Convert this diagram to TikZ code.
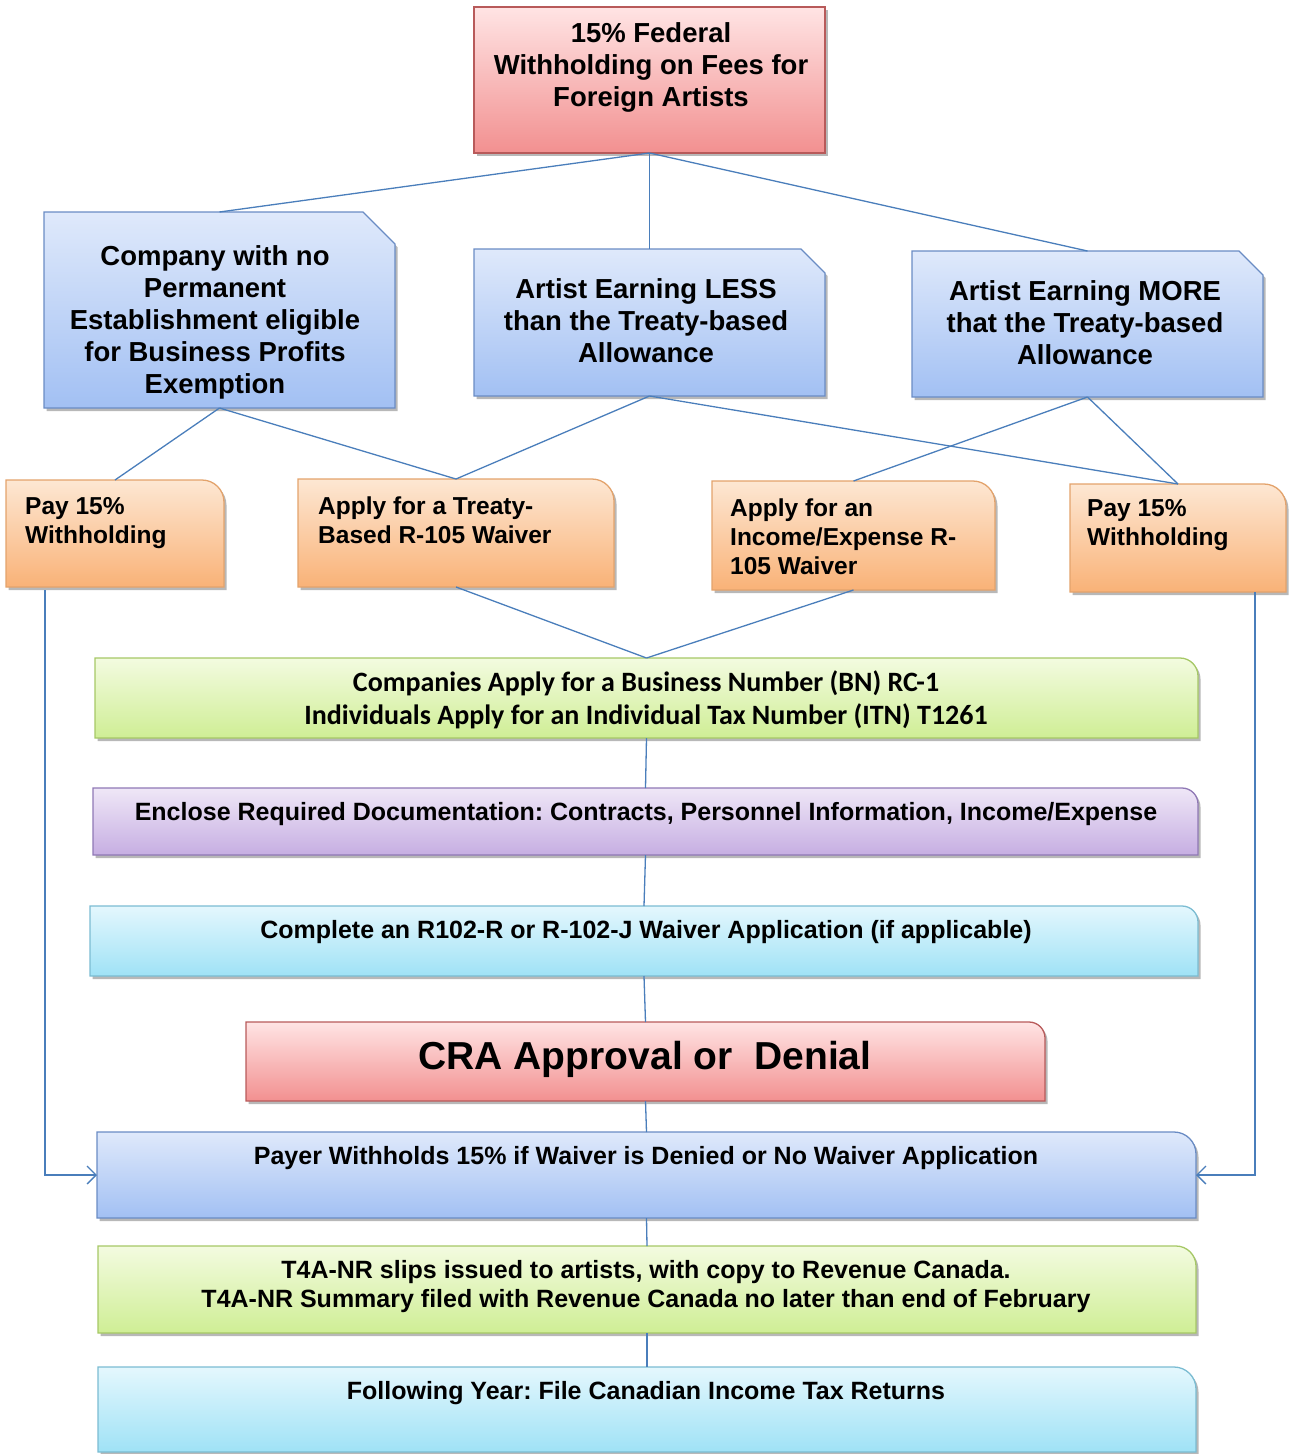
\documentclass[tikz,border=0pt]{standalone}
\usepackage{fontspec}
\setmainfont{Liberation Sans}
\newfontfamily\calfont{Carlito}
\usetikzlibrary{shadows,arrows.meta}
\frenchspacing
\definecolor{redT}{HTML}{FFE4E4}
\definecolor{redB}{HTML}{F29090}
\definecolor{redD}{HTML}{B85A5A}
\definecolor{bluT}{HTML}{DFE9FB}
\definecolor{bluB}{HTML}{A2C0F3}
\definecolor{bluD}{HTML}{6A8CC4}
\definecolor{oraT}{HTML}{FDE7D3}
\definecolor{oraB}{HTML}{F9B277}
\definecolor{oraD}{HTML}{E3A36C}
\definecolor{greT}{HTML}{F3FBE0}
\definecolor{greB}{HTML}{CFEE95}
\definecolor{greD}{HTML}{A6C866}
\definecolor{purT}{HTML}{EFE7F7}
\definecolor{purB}{HTML}{C6AEE2}
\definecolor{purD}{HTML}{8F78B5}
\definecolor{cyaT}{HTML}{E4F7FD}
\definecolor{cyaB}{HTML}{9FE2F6}
\definecolor{cyaD}{HTML}{7BBCD2}
\definecolor{lineC}{HTML}{4A7EBB}
\newcommand\myfs[2]{\fontsize{#1}{#2}\selectfont\bfseries\frenchspacing}
% plain rectangle: style name x1 y1 x2 y2
\newcommand\plainbox[6]{%
  \path[#1] (#3,#4) rectangle (#5,#6);
  \node[inner sep=0pt,outer sep=0pt,minimum width={(#5-#3)*1pt},minimum height={(#6-#4)*1pt}] (#2) at ({(#3+#5)/2},{(#4+#6)/2}) {};}
% snipped top-right corner
\newcommand\snipbox[7]{%
  \path[#1] (#3,#4) -- ({#5-#7},#4) -- (#5,{#4+#7}) -- (#5,#6) -- (#3,#6) -- cycle;
  \node[inner sep=0pt,outer sep=0pt,minimum width={(#5-#3)*1pt},minimum height={(#6-#4)*1pt}] (#2) at ({(#3+#5)/2},{(#4+#6)/2}) {};}
% rounded top-right corner
\newcommand\rbox[7]{%
  \path[#1] (#3,#6) -- (#3,#4) -- ({#5-#7},#4) .. controls ({#5-0.448*#7},#4) and (#5,{#4+0.448*#7}) .. (#5,{#4+#7}) -- (#5,#6) -- cycle;
  \node[inner sep=0pt,outer sep=0pt,minimum width={(#5-#3)*1pt},minimum height={(#6-#4)*1pt}] (#2) at ({(#3+#5)/2},{(#4+#6)/2}) {};}
\tikzset{
  shad/.style={drop shadow={shadow xshift=2.5pt,shadow yshift=-3pt,opacity=0.28,fill=black}},
  redbox/.style={shad,top color=redT,bottom color=redB,draw=redD,line width=1.3pt},
  bluebox/.style={shad,top color=bluT,bottom color=bluB,draw=bluD,line width=1.3pt},
  orangebox/.style={shad,top color=oraT,bottom color=oraB,draw=oraD,line width=1.3pt},
  greenbox/.style={shad,top color=greT,bottom color=greB,draw=greD,line width=1.3pt},
  purplebox/.style={shad,top color=purT,bottom color=purB,draw=purD,line width=1.3pt},
  cyanbox/.style={shad,top color=cyaT,bottom color=cyaB,draw=cyaD,line width=1.3pt},
  conn/.style={draw=lineC,line width=1.3pt},
  lbl/.style={align=center,inner sep=0pt},
  lbll/.style={align=left,inner sep=0pt,anchor=west}
}
\begin{document}
\begin{tikzpicture}[x=1pt,y=-1pt]
\useasboundingbox (0,0) rectangle (1288,1454);
% boxes
\plainbox{redbox}{top}{474}{7}{825}{153}
\snipbox{bluebox}{b1}{44}{212}{395}{408}{32}
\snipbox{bluebox}{b2}{474}{249}{825}{396}{24}
\snipbox{bluebox}{b3}{912}{251}{1263}{397}{24}
\rbox{orangebox}{o1}{6}{480}{224}{587}{22}
\rbox{orangebox}{o2}{298}{479}{614}{587}{22}
\rbox{orangebox}{o3}{712}{481}{995}{590}{22}
\rbox{orangebox}{o4}{1070}{484}{1286}{592}{22}
\rbox{greenbox}{g1}{95}{658}{1198}{738}{18}
\rbox{purplebox}{p1}{93}{788}{1198}{855}{16}
\rbox{cyanbox}{c1}{90}{906}{1198}{976}{16}
\rbox{redbox}{cra}{246}{1022}{1045}{1101}{16}
\rbox{bluebox}{pay}{97}{1132}{1196}{1218}{22}
\rbox{greenbox}{t4a}{98}{1246}{1196}{1333}{20}
\rbox{cyanbox}{fy}{98}{1367}{1196}{1452}{22}
% connectors
\draw[conn] (top.south) -- (b1.north);
\draw[conn] (top.south) -- (b2.north);
\draw[conn] (top.south) -- (b3.north);
\draw[conn] (b1.south) -- (o1.north);
\draw[conn] (b1.south) -- (o2.north);
\draw[conn] (b2.south) -- (o2.north);
\draw[conn] (b2.south) -- (o4.north);
\draw[conn] (b3.south) -- (o3.north);
\draw[conn] (b3.south) -- (o4.north);
\draw[conn] (o2.south) -- (g1.north);
\draw[conn] (o3.south) -- (g1.north);
\draw[conn] (g1.south) -- (p1.north);
\draw[conn] (p1.south) -- (c1.north);
\draw[conn] (c1.south) -- (cra.north);
\draw[conn] (cra.south) -- (pay.north);
\draw[conn] (pay.south) -- (t4a.north);
\draw[conn] (t4a.south) -- (fy.north);
\draw[conn,-{Straight Barb[length=9pt,width=18pt]}] ([xshift=39pt,yshift=-3pt]o1.south west) |- (pay.west);
\draw[conn,-{Straight Barb[length=9pt,width=18pt]}] ([xshift=-31pt]o4.south east) |- (pay.east);
% texts
\node[lbl,font={\myfs{27.5}{32}}] (ttop) at (651,67) {15\% Federal\\Withholding on Fees for\\Foreign Artists};
\node[lbl,font={\myfs{27.5}{32}}] (tb1) at (215,322) {Company with no\\Permanent\\Establishment eligible\\for Business Profits\\Exemption};
\node[lbl,font={\myfs{27.5}{32}}] (tb2) at (646,321) {Artist Earning LESS\\than the Treaty-based\\Allowance};
\node[lbl,font={\myfs{27.5}{32}}] (tb3) at (1085,323) {Artist Earning MORE\\that the Treaty-based\\Allowance};
\node[lbll,font={\myfs{24.5}{29}}] (to1) at (25,523) {Pay 15\%\\Withholding};
\node[lbll,font={\myfs{24.5}{29}}] (to2) at (318,520) {Apply for a Treaty-\\Based R-105 Waiver};
\node[lbll,font={\myfs{24.5}{29}}] (to3) at (730,537) {Apply for an\\Income/Expense R-\\105 Waiver};
\node[lbll,font={\myfs{24.5}{29}}] (to4) at (1087,525) {Pay 15\%\\Withholding};
\node[lbl,font={\calfont\myfs{28}{33}}] (tg1) at (646,700) {Companies Apply for a Business Number (BN) RC-1\\Individuals Apply for an Individual Tax Number (ITN) T1261};
\node[lbl,font={\myfs{25}{29}}] (tp1) at (646,814) {Enclose Required Documentation: Contracts, Personnel Information, Income/Expense};
\node[lbl,font={\myfs{25}{29}}] (tc1) at (646,932) {Complete an R102-R or R-102-J Waiver Application (if applicable)};
\node[lbl,font={\myfs{39}{44}}] (tcra) at (645,1059) {CRA Approval or \ Denial};
\node[lbl,font={\myfs{25}{29}}] (tpay) at (646,1158) {Payer Withholds 15\% if Waiver is Denied or No Waiver Application};
\node[lbl,font={\myfs{25}{29}}] (tt4a) at (646,1287) {T4A-NR slips issued to artists, with copy to Revenue Canada.\\T4A-NR Summary filed with Revenue Canada no later than end of February};
\node[lbl,font={\myfs{25}{29}}] (tfy) at (646,1393) {Following Year: File Canadian Income Tax Returns};
\end{tikzpicture}
\end{document}
